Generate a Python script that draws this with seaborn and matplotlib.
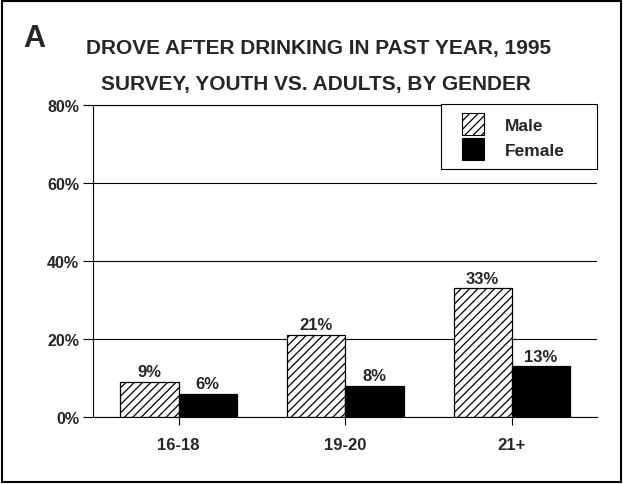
import numpy as np
import pandas as pd
import matplotlib.pyplot as plt
from matplotlib.patches import Patch, Rectangle
from matplotlib.legend_handler import HandlerPatch
import seaborn as sns

# ==============================
# DATA
# ==============================

age_groups = ["16-18", "19-20", "21+"]
male = [9, 21, 33]
female = [6, 8, 13]
genders = ["Male", "Female"]
y_ticks = [0, 20, 40, 60, 80]

df = pd.DataFrame({
    "age": age_groups * 2,
    "pct": male + female,
    "gender": ["Male"] * 3 + ["Female"] * 3,
})

# ==============================
# FIGURE
# ==============================

sns.set_style("white")
plt.rcParams['font.family'] = ['Liberation Sans', 'DejaVu Sans']
plt.rcParams['hatch.linewidth'] = 0.9

fig = plt.figure(figsize=(6.23, 4.85), dpi=100)
fig.patches.append(Rectangle((0.004, 0.004), 0.992, 0.992, transform=fig.transFigure,
                             fill=False, edgecolor='black', linewidth=1.5))
ax = fig.add_axes([0.149, 0.138, 0.809, 0.643])

sns.barplot(data=df, x="age", y="pct", hue="gender", hue_order=genders,
            palette={"Male": "white", "Female": "black"}, edgecolor="black",
            linewidth=0.9, width=0.7, saturation=1, legend=False, ax=ax)

for bar in ax.containers[0]:
    bar.set_hatch('////')

for cont in ax.containers:
    ax.bar_label(cont, fmt='%d%%', padding=2, fontsize=12, fontweight='bold')

ax.set_ylim(0, 80)
ax.set_xlim(-0.515, 2.51)
ax.set_yticks(y_ticks)
ax.set_yticklabels([f"{v}%" for v in y_ticks], fontsize=11.5, fontweight='bold')
ax.set_xticks(range(len(age_groups)))
ax.set_xticklabels(age_groups, fontsize=12, fontweight='bold')
ax.tick_params(axis='y', direction='out', length=7, width=0.8, color='black', pad=3, left=True)
ax.tick_params(axis='x', direction='out', length=6, width=0.8, color='black', pad=8, bottom=True)
ax.set_xlabel("")
ax.set_ylabel("")

ax.yaxis.grid(True, color='black', linewidth=0.8)
ax.set_axisbelow(True)
for side in ['left', 'bottom', 'top']:
    ax.spines[side].set_visible(True)
    ax.spines[side].set_color('black')
    ax.spines[side].set_linewidth(0.8)
ax.spines['right'].set_visible(False)

# ==============================
# LEGEND (square swatches, wide box)
# ==============================

def square_swatch(legend, orig_handle, xdescent, ydescent, width, height, fontsize):
    s = height
    return Rectangle((-xdescent + width - s, -ydescent), s, s)

handles = [Patch(facecolor='white', edgecolor='black', hatch='////', linewidth=0.8),
           Patch(facecolor='black', edgecolor='black', linewidth=0.8)]
leg = ax.legend(handles, genders, loc='upper right', bbox_to_anchor=(0.69, 0.0, 0.31, 1.003),
                mode='expand', prop={'weight': 'bold', 'size': 12.5}, frameon=True,
                fancybox=False, framealpha=1, edgecolor='black',
                handlelength=2.0, handleheight=1.6, handletextpad=1.2,
                borderpad=0.5, labelspacing=0.15, borderaxespad=0,
                handler_map={Patch: HandlerPatch(patch_func=square_swatch)})
leg.get_frame().set_linewidth(0.8)

# ==============================
# TITLES
# ==============================

fig.text(0.037, 0.92, "A", fontsize=22, fontweight='bold', ha='left', va='center')
fig.text(0.511, 0.901, "DROVE AFTER DRINKING IN PAST YEAR, 1995",
         fontsize=15, fontweight='bold', ha='center', va='center')
fig.text(0.507, 0.825, "SURVEY, YOUTH VS. ADULTS, BY GENDER",
         fontsize=15, fontweight='bold', ha='center', va='center')

plt.savefig("out.png", dpi=100)
plt.close()
